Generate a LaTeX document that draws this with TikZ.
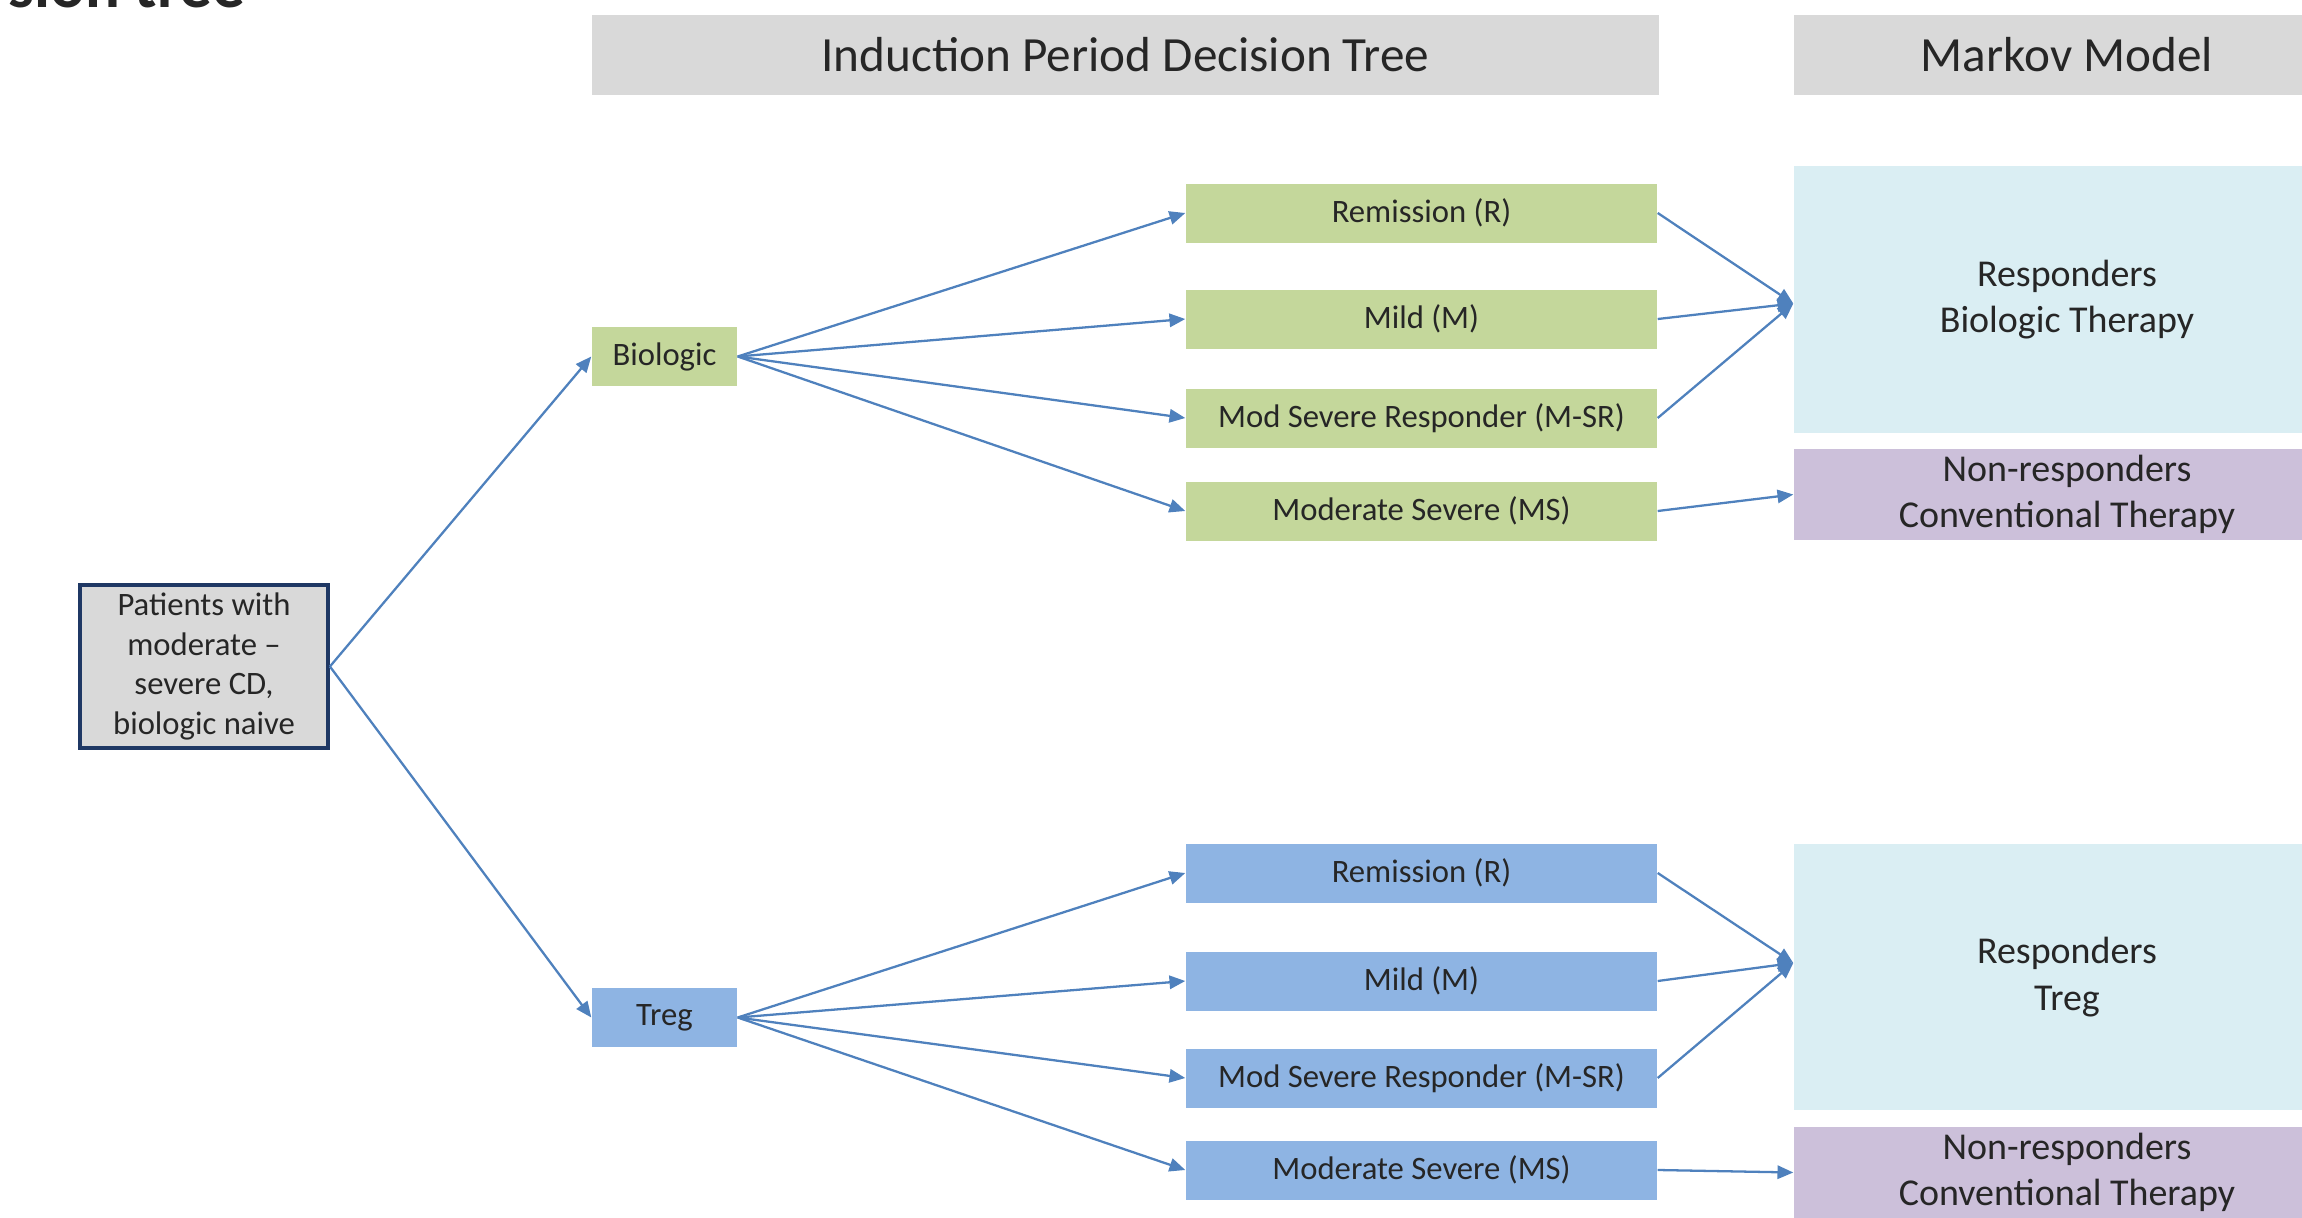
\documentclass[tikz,border=0pt]{standalone}
\usepackage{fontspec}
\setmainfont{Carlito}
\usetikzlibrary{arrows.meta}

\definecolor{hdrgrey}{RGB}{217,217,217}
\definecolor{biogreen}{RGB}{196,215,155}
\definecolor{tregblue}{RGB}{142,180,227}
\definecolor{respblue}{RGB}{218,238,243}
\definecolor{nonpurple}{RGB}{204,192,218}
\definecolor{navy}{RGB}{31,56,100}
\definecolor{arrowblue}{RGB}{79,129,189}
\definecolor{txt}{RGB}{38,38,38}

\tikzset{
  header/.style={fill=hdrgrey, inner sep=0pt, minimum height=0.80cm, text=txt, font=\fontsize{14}{17}\selectfont},
  arm/.style={inner sep=0pt, minimum width=1.45cm, minimum height=0.59cm, text=txt, font=\fontsize{9.3}{11.3}\selectfont},
  outcome/.style={inner sep=0pt, minimum width=4.71cm, minimum height=0.59cm, text=txt, font=\fontsize{9.3}{11.3}\selectfont},
  state/.style={inner sep=0pt, minimum width=5.46cm, align=center, text=txt, font=\fontsize{10.8}{13.2}\selectfont},
  branch/.style={arrowblue, line width=0.65pt, -{Triangle[length=4.5pt,width=3.8pt]}},
}

\begin{document}
\begin{tikzpicture}
\useasboundingbox (0,0) rectangle (23.02,-12.18);
\node[anchor=base west, text=txt, font=\bfseries\fontsize{18.5}{22}\selectfont] (title) at (-0.04,-0.075) {sion tree};
% column headers
\node[header, minimum width=10.67cm] (hdrtree) at (11.255,-0.55) {Induction Period Decision Tree};
\node[header, minimum width=5.46cm] (hdrmarkov) at (20.67,-0.55) {Markov Model};
% root
\node[draw=navy, line width=1.1pt, fill=hdrgrey, inner sep=0pt, minimum width=2.48cm, minimum height=1.63cm,
      align=center, text=txt, font=\fontsize{9.3}{11.3}\selectfont] (pat) at (2.04,-6.665)
      {Patients with\\moderate --\\severe CD,\\biologic naive};
% treatment arms
\node[arm, fill=biogreen] (bio) at (6.645,-3.565) {Biologic};
\node[arm, fill=tregblue] (treg) at (6.645,-10.175) {Treg};
% induction outcomes, biologic
\node[outcome, fill=biogreen] (bR) at (14.215,-2.13) {Remission (R)};
\node[outcome, fill=biogreen] (bM) at (14.215,-3.19) {Mild (M)};
\node[outcome, fill=biogreen] (bMSR) at (14.215,-4.18) {Mod Severe Responder (M-SR)};
\node[outcome, fill=biogreen] (bMS) at (14.215,-5.11) {Moderate Severe (MS)};
% induction outcomes, treg
\node[outcome, fill=tregblue] (tR) at (14.215,-8.73) {Remission (R)};
\node[outcome, fill=tregblue] (tM) at (14.215,-9.81) {Mild (M)};
\node[outcome, fill=tregblue] (tMSR) at (14.215,-10.78) {Mod Severe Responder (M-SR)};
\node[outcome, fill=tregblue] (tMS) at (14.215,-11.70) {Moderate Severe (MS)};
% markov states
\node[state, fill=respblue, minimum height=2.67cm] (respbio) at (20.67,-2.995) {Responders\\Biologic Therapy};
\node[state, fill=nonpurple, minimum height=0.91cm] (nonbio) at (20.67,-4.945) {Non-responders\\Conventional Therapy};
\node[state, fill=respblue, minimum height=2.66cm] (resptreg) at (20.67,-9.77) {Responders\\Treg};
\node[state, fill=nonpurple, minimum height=0.91cm] (nontreg) at (20.67,-11.725) {Non-responders\\Conventional Therapy};
\coordinate (hubB) at ([yshift=-0.4mm]respbio.west);
\coordinate (hubT) at ([yshift=1.4mm]resptreg.west);
% branches
\draw[branch] (pat.east) -- (bio.west);
\draw[branch] (pat.east) -- (treg.west);
\foreach \n in {bR,bM,bMSR,bMS} {\draw[branch] (bio.east) -- (\n.west);}
\foreach \n in {tR,tM,tMSR,tMS} {\draw[branch] (treg.east) -- (\n.west);}
\foreach \n in {bR,bM,bMSR} {\draw[branch] (\n.east) -- (hubB);}
\foreach \n in {tR,tM,tMSR} {\draw[branch] (\n.east) -- (hubT);}
\draw[branch] (bMS.east) -- (nonbio.west);
\draw[branch] (tMS.east) -- (nontreg.west);
\end{tikzpicture}
\end{document}
